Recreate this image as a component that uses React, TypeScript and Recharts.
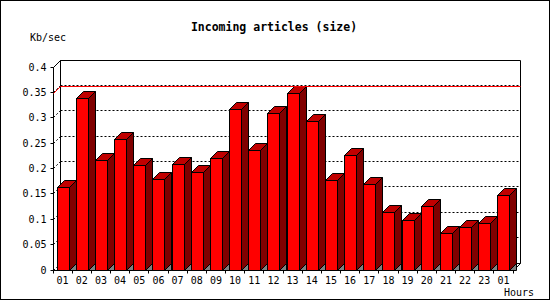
import React from "react";
import {
  BarChart,
  Bar,
  XAxis,
  YAxis,
  CartesianGrid,
  ReferenceLine,
  usePlotArea,
} from "recharts";

const hours = [
  "01", "02", "03", "04", "05", "06", "07", "08", "09", "10", "11", "12",
  "13", "14", "15", "16", "17", "18", "19", "20", "21", "22", "23", "01",
];
const sizeKbps = [
  0.163, 0.338, 0.215, 0.258, 0.206, 0.179, 0.208, 0.192, 0.22, 0.317, 0.236, 0.309,
  0.347, 0.293, 0.177, 0.226, 0.169, 0.114, 0.098, 0.126, 0.072, 0.084, 0.092, 0.147,
];
const yTicks = [0, 0.05, 0.1, 0.15, 0.2, 0.25, 0.3, 0.35, 0.4];

const data = hours.map((hour, i) => ({ hour, value: sizeKbps[i] }));
const peak = Math.max(...sizeKbps);

const W = 550;
const H = 300;
const D = 7; // 3d depth
const MONO = "'DejaVu Sans Mono', monospace";

const px = (v: number) => Math.floor(v) + 0.5;

function Bar3D(props: any) {
  const { x, y, width, height } = props;
  if (height == null || width == null) return null;
  const l = px(x);
  const r = px(x + width);
  const t = px(y);
  const b = px(y + height);
  return (
    <g stroke="#000" strokeWidth={1}>
      <polygon points={`${r},${b} ${r + D},${b - D} ${r + D},${b}`} fill="#808080" />
      <polygon points={`${r},${t} ${r + D},${t - D} ${r + D},${b - D} ${r},${b}`} fill="#800000" />
      <polygon points={`${l},${t} ${l + D},${t - D} ${r + D},${t - D} ${r},${t}`} fill="#c00000" />
      <rect x={l} y={t} width={r - l} height={b - t} fill="#ff0000" />
    </g>
  );
}

function backGridLine(p: any) {
  const { x1, x2, y1 } = p;
  const y = px(y1);
  const l = px(x1);
  const r = px(x2);
  return (
    <g key={`g-${y}`} stroke="#000" strokeDasharray="2 2">
      <line x1={l} y1={y} x2={l + D} y2={y - D} />
      <line x1={l + D} y1={y - D} x2={r + D} y2={y - D} />
    </g>
  );
}

function peakLine(p: any) {
  const { x1, x2, y1 } = p;
  const y = px(y1);
  const l = px(x1);
  const r = px(x2);
  return (
    <g stroke="#ff0000">
      <line x1={l} y1={y} x2={l + D} y2={y - D} />
      <line x1={l + D} y1={y - D} x2={r + D} y2={y - D} />
    </g>
  );
}

function YTick(props: any) {
  const { x, y, payload } = props;
  const yy = px(y);
  const ax = px(x);
  return (
    <g>
      <line x1={ax - 3} y1={yy} x2={ax} y2={yy} stroke="#000" />
      <text x={ax - 7} y={yy + 3.6} textAnchor="end" fontFamily={MONO} fontSize={10} fill="#000">
        {payload.value}
      </text>
    </g>
  );
}

function HourTick(props: any) {
  const { x, y, payload, index } = props;
  const area = usePlotArea();
  const band = area ? area.width / hours.length : 0;
  const edge = px(x - band / 2);
  const last = index === hours.length - 1;
  return (
    <g>
      <line x1={edge} y1={px(y)} x2={edge} y2={px(y) + 3} stroke="#000" />
      {last && (
        <line x1={px(x + band / 2)} y1={px(y)} x2={px(x + band / 2)} y2={px(y) + 3} stroke="#000" />
      )}
      <text x={x} y={y + 14} textAnchor="middle" fontFamily={MONO} fontSize={10} fill="#000">
        {payload.value}
      </text>
    </g>
  );
}

function Frame() {
  const area = usePlotArea();
  if (!area) return null;
  const l = px(area.x);
  const t = px(area.y);
  const r = px(area.x + area.width);
  const b = px(area.y + area.height);
  return (
    <g stroke="#000" fill="none">
      <rect x={0.5} y={0.5} width={W - 1} height={H - 1} />
      <polyline points={`${l},${b} ${l},${t} ${l + D},${t - D} ${r + D},${t - D} ${r + D},${b - D} ${r},${b} ${l},${b}`} />
      <line x1={l + D} y1={t - D} x2={l + D} y2={b - D} />
      <line x1={l + D} y1={b - D} x2={r + D} y2={b - D} />
      <g stroke="none" fill="#000" fontFamily={MONO}>
        <text x={W / 2 - 1} y={31} textAnchor="middle" fontSize={11.5} fontWeight="bold">
          Incoming articles (size)
        </text>
        <text x={30} y={41} fontSize={10}>
          Kb/sec
        </text>
        <text x={504} y={295.5} fontSize={10}>
          Hours
        </text>
      </g>
    </g>
  );
}

export default function App() {
  return (
    <div style={{ position: "absolute", left: 0, top: 0, width: W, height: H, background: "#fff" }}>
      <BarChart
        width={W}
        height={H}
        data={data}
        margin={{ top: 67, right: 37, bottom: 0, left: 8 }}
        barSize={12}
      >
        <Frame />
        <CartesianGrid horizontal={backGridLine} vertical={false} />
        <ReferenceLine y={peak} shape={peakLine} />
        <XAxis
          dataKey="hour"
          height={30}
          interval={0}
          axisLine={false}
          tickLine={false}
          tickSize={0}
          tickMargin={0}
          tick={<HourTick />}
        />
        <YAxis
          width={45}
          domain={[0, 0.4]}
          ticks={yTicks}
          axisLine={false}
          tickLine={false}
          tickSize={0}
          tickMargin={0}
          tick={<YTick />}
        />
        <Bar dataKey="value" shape={<Bar3D />} isAnimationActive={false} />
      </BarChart>
    </div>
  );
}
